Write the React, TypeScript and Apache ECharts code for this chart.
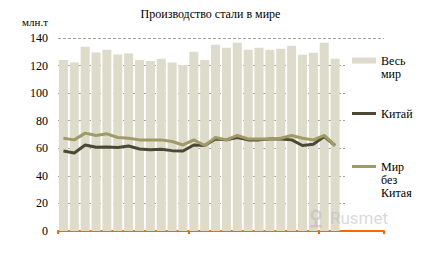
import React, { useEffect, useRef } from "react";
import * as echarts from "echarts";

const categories = [
  "2012-01", "2012-02", "2012-03", "2012-04", "2012-05", "2012-06",
  "2012-07", "2012-08", "2012-09", "2012-10", "2012-11", "2012-12",
  "2013-01", "2013-02", "2013-03", "2013-04", "2013-05", "2013-06",
  "2013-07", "2013-08", "2013-09", "2013-10", "2013-11", "2013-12",
  "2014-01", "2014-02", "2014-03", "2014-04", "2014-05", "2014-06",
];

const world = [
  124.1, 122.2, 133.7, 129.5, 131.5, 128.0, 128.8, 124.1, 123.4, 124.9, 122.2, 120.5,
  130.0, 124.1, 135.1, 132.9, 136.6, 131.5, 132.9, 131.5, 132.2, 134.4, 127.8, 129.3,
  136.6, 124.9,
];

const china = [
  58.0, 56.6, 62.4, 60.7, 61.0, 60.5, 61.7, 59.5, 59.0, 59.3, 58.3, 58.0,
  62.4, 62.0, 66.8, 66.1, 67.8, 66.1, 66.1, 66.8, 66.8, 66.1, 62.0, 62.9,
  68.5, 62.0,
];

const worldExChina = [
  67.3, 66.1, 71.0, 69.3, 70.5, 67.8, 67.3, 66.1, 66.1, 66.1, 64.9, 62.4,
  66.1, 62.0, 67.8, 66.1, 69.3, 66.8, 66.8, 66.8, 67.3, 69.3, 67.3, 66.1,
  69.3, 62.0,
];

const yTicks = { min: 0, max: 140, interval: 20 };

const SERIF = "'Liberation Serif', 'DejaVu Serif', serif";

// legend icons: a bar/line swatch aligned with the first text line
const ICON_BAR = "path://M0,0L0.01,0L0,0Z M0,3.5L24,3.5L24,9.5L0,9.5Z M0,26L24,26L24,26Z";
const ICON_LINE2 = "path://M0,0L0.01,0L0,0Z M0,5L24,5L24,8L0,8Z M0,13L24,13L24,13Z";
const ICON_LINE3 = "path://M0,0L0.01,0L0,0Z M0,5L24,5L24,8L0,8Z M0,39L24,39L24,39Z";

export default function App() {
  const ref = useRef<HTMLDivElement>(null);
  useEffect(() => {
    document.body.style.margin = "0";
    if (!ref.current) return;
    const chart = echarts.init(ref.current, undefined, { renderer: "svg" });
    const legendText = { fontFamily: SERIF, fontSize: 12, color: "#000", lineHeight: 13 };
    const wm = "rgba(185,185,185,0.55)";
    chart.setOption({
      animation: false,
      backgroundColor: "#fff",
      title: {
        text: "Производство стали в мире",
        left: "center",
        top: 3,
        textStyle: { fontFamily: SERIF, fontSize: 12, fontWeight: "normal", color: "#000" },
      },
      grid: { left: 58, right: 37, top: 38, bottom: 36, containLabel: false },
      xAxis: {
        type: "category",
        data: categories,
        boundaryGap: true,
        axisLine: { lineStyle: { color: "#ff6600", width: 2 } },
        axisTick: {
          show: true,
          interval: (i: number) => i % 12 === 0,
          length: 3,
          lineStyle: { color: "#ff6600", width: 2 },
        },
        axisLabel: { show: false },
        splitLine: { show: false },
      },
      yAxis: {
        type: "value",
        min: yTicks.min,
        max: yTicks.max,
        interval: yTicks.interval,
        name: "млн.т",
        nameLocation: "end",
        nameGap: 16,
        nameTextStyle: {
          fontFamily: SERIF,
          fontSize: 11,
          color: "#000",
          align: "right",
          verticalAlign: "middle",
          padding: [0, 10, 0, 0],
        },
        axisLine: { show: false },
        axisTick: { show: false },
        axisLabel: { fontFamily: SERIF, fontSize: 12, color: "#000", margin: 10 },
        splitLine: { lineStyle: { color: "#a0a0a0", type: [3, 2], width: 1 } },
      },
      legend: [
        {
          data: ["Весь мир"],
          orient: "vertical",
          left: 352,
          top: 54,
          padding: 0,
          itemWidth: 24,
          itemHeight: 26,
          icon: ICON_BAR,
          formatter: (n: string) => n.replace(/ /g, "\n"),
          textStyle: { ...legendText },
          selectedMode: false,
        },
        {
          data: ["Китай"],
          orient: "vertical",
          left: 352,
          top: 107,
          padding: 0,
          itemWidth: 24,
          itemHeight: 13,
          icon: ICON_LINE2,
          textStyle: { ...legendText },
          selectedMode: false,
        },
        {
          data: ["Мир без Китая"],
          orient: "vertical",
          left: 352,
          top: 160,
          padding: 0,
          itemWidth: 24,
          itemHeight: 39,
          icon: ICON_LINE3,
          formatter: (n: string) => n.replace(/ /g, "\n"),
          textStyle: { ...legendText },
          selectedMode: false,
        },
      ],
      graphic: [
        {
          type: "rect",
          z: 1,
          shape: { x: 345, y: 41, width: 76, height: 187 },
          style: { fill: "#fff" },
          silent: true,
        },
        {
          type: "ring",
          z: 20,
          silent: true,
          shape: { cx: 316, cy: 215, r: 5.5, r0: 3 },
          style: { fill: wm },
        },
        {
          type: "rect",
          z: 20,
          silent: true,
          shape: { x: 314.5, y: 220.5, width: 3, height: 5 },
          style: { fill: wm },
        },
        {
          type: "rect",
          z: 20,
          silent: true,
          shape: { x: 310, y: 225, width: 12, height: 2.5 },
          style: { fill: wm },
        },
        {
          type: "text",
          z: 20,
          silent: true,
          x: 330,
          y: 218,
          style: {
            text: "Rusmet",
            fontFamily: "Roboto, 'Open Sans', sans-serif",
            fontSize: 17,
            fill: wm,
            verticalAlign: "middle",
            align: "left",
          },
        },
      ],
      series: [
        {
          name: "Весь мир",
          type: "bar",
          data: world,
          barCategoryGap: "17%",
          itemStyle: { color: "#dddbca" },
          z: 2,
        },
        {
          name: "Китай",
          type: "line",
          data: china,
          symbol: "none",
          lineStyle: { color: "#4b4833", width: 3 },
          itemStyle: { color: "#4b4833" },
          z: 3,
        },
        {
          name: "Мир без Китая",
          type: "line",
          data: worldExChina,
          symbol: "none",
          lineStyle: { color: "#a09a66", width: 3 },
          itemStyle: { color: "#a09a66" },
          z: 4,
        },
      ],
    });
    return () => chart.dispose();
  }, []);
  return <div ref={ref} style={{ width: 421, height: 267 }} />;
}
